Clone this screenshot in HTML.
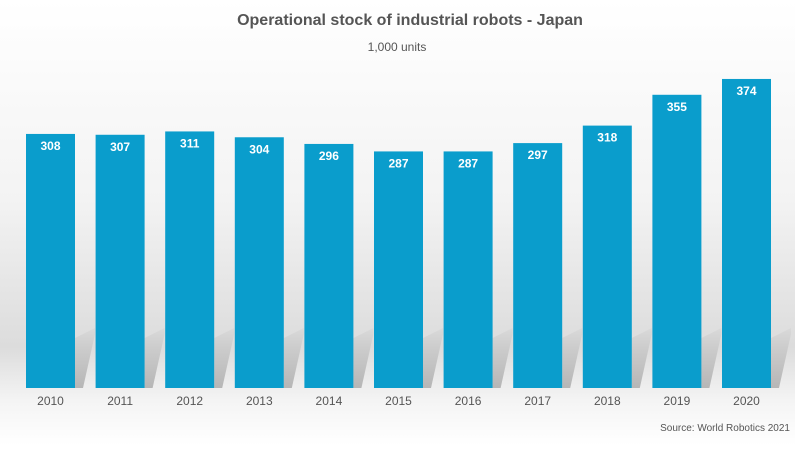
<!DOCTYPE html>
<html><head><meta charset="utf-8"><style>
html,body{margin:0;padding:0}
body{width:795px;height:445px;overflow:hidden;font-family:"Liberation Sans",sans-serif;}
</style></head><body>
<svg width="795" height="445" xmlns="http://www.w3.org/2000/svg">
<defs>
<linearGradient id="bg" x1="0" y1="0" x2="0" y2="1">
<stop offset="0" stop-color="#ffffff"/><stop offset="0.45" stop-color="#f3f3f3"/>
<stop offset="0.78" stop-color="#dcdcdc"/><stop offset="0.9" stop-color="#f4f4f4"/><stop offset="1" stop-color="#ffffff"/>
</linearGradient>
<linearGradient id="sh" x1="0" y1="0" x2="0" y2="1">
<stop offset="0" stop-color="#d8d8d8"/><stop offset="1" stop-color="#a8a8a8"/>
</linearGradient>
</defs>
<rect width="795" height="445" fill="url(#bg)"/>
<text x="410" y="25" text-anchor="middle" font-size="16" font-weight="bold" fill="#555">Operational stock of industrial robots - Japan</text>
<text x="397" y="51" text-anchor="middle" font-size="12" fill="#555">1,000 units</text>
<g id="shadows"></g>
<g id="bars"></g>
<text x="790" y="431" text-anchor="end" font-size="10" fill="#555">Source: World Robotics 2021</text>
</svg>
<script>
const categories=["2010","2011","2012","2013","2014","2015","2016","2017","2018","2019","2020"];
const values=[308,307,311,304,296,287,287,297,318,355,374];
const NS="http://www.w3.org/2000/svg";
const x0=26,pitch=69.6,bw=49,base=388;
function xPos(i){return x0+i*pitch;}
function yPos(v){return base-(v-3)*0.833;}
const g=document.getElementById('bars'),sg=document.getElementById('shadows');
categories.forEach((c,i)=>{
  const x=xPos(i),y=yPos(values[i]);
  const p=document.createElementNS(NS,'polygon');
  p.setAttribute('points',`${x+bw},${base} ${x+bw},${base-50} ${x+bw+20},328 ${x+bw+20},334 ${x+bw+8},${base}`);
  p.setAttribute('fill','url(#sh)');p.setAttribute('opacity','0.8');
  
  
  sg.appendChild(p);
  const r=document.createElementNS(NS,'rect');
  r.setAttribute('x',x);r.setAttribute('y',y);r.setAttribute('width',bw);r.setAttribute('height',base-y);
  r.setAttribute('fill','#0a9dcc');
  
  
  g.appendChild(r);
  const t=document.createElementNS(NS,'text');
  t.setAttribute('x',x+bw/2);t.setAttribute('y',y+16);t.setAttribute('text-anchor','middle');
  t.setAttribute('font-size','12');t.setAttribute('font-weight','bold');t.setAttribute('fill','#fff');
  t.textContent=values[i];
  
  
  g.appendChild(t);
  const l=document.createElementNS(NS,'text');
  l.setAttribute('x',x+bw/2);l.setAttribute('y',405);l.setAttribute('text-anchor','middle');
  l.setAttribute('font-size','12');l.setAttribute('fill','#555');
  l.textContent=c;
  
  
  g.appendChild(l);
});
</script>
</body></html>
